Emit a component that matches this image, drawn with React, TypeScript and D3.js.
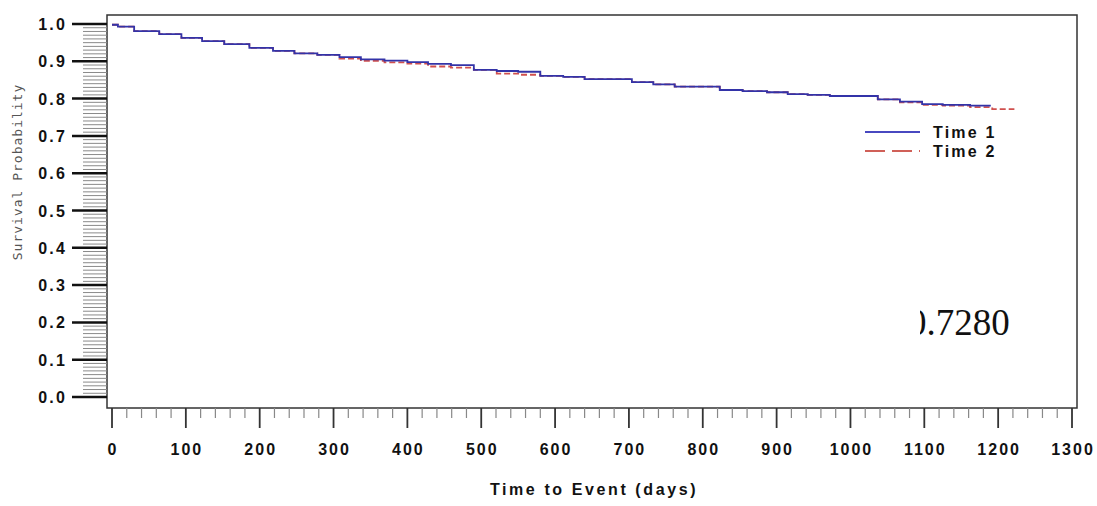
import React, { useRef, useEffect } from 'react';
import * as d3 from 'd3';

// Kaplan-Meier step data
const time1Days = [0, 8, 30, 64, 94, 122, 152, 186, 218, 247, 278, 308, 337, 369, 400, 428, 459, 490, 521, 550, 580, 611, 640, 704, 733, 762, 823, 854, 887, 915, 942, 972, 1037, 1067, 1097, 1125, 1162, 1190];
const time1Surv = [0.998, 0.993, 0.981, 0.973, 0.963, 0.954, 0.946, 0.936, 0.928, 0.921, 0.917, 0.911, 0.905, 0.902, 0.898, 0.893, 0.890, 0.877, 0.874, 0.872, 0.861, 0.858, 0.852, 0.844, 0.838, 0.832, 0.823, 0.820, 0.817, 0.812, 0.810, 0.807, 0.798, 0.792, 0.785, 0.783, 0.781, 0.781];

const time2Days = [0, 8, 30, 64, 94, 122, 152, 186, 218, 247, 278, 308, 337, 369, 400, 428, 459, 490, 521, 550, 580, 611, 640, 704, 733, 762, 823, 854, 887, 915, 942, 972, 1037, 1067, 1097, 1125, 1162, 1192, 1222];
const time2Surv = [0.998, 0.993, 0.981, 0.973, 0.963, 0.954, 0.946, 0.936, 0.928, 0.921, 0.917, 0.907, 0.901, 0.897, 0.894, 0.886, 0.883, 0.877, 0.867, 0.864, 0.861, 0.858, 0.852, 0.844, 0.838, 0.832, 0.823, 0.820, 0.817, 0.812, 0.810, 0.807, 0.798, 0.790, 0.783, 0.781, 0.777, 0.772, 0.772];

const seriesNames = ['Time 1', 'Time 2'];
const xTicks = d3.range(0, 1301, 100);
const yTicks = d3.range(0, 1.01, 0.1);
const annotation = '0.7280';

function App() {
  const ref = useRef(null);

  useEffect(() => {
    const svg = d3.select(ref.current);
    svg.selectAll('*').remove();

    const x = d3.scaleLinear().domain([0, 1300]).range([112, 1072]);
    const y = d3.scaleLinear().domain([0, 1]).range([397, 24]);
    const frame = { left: 107, top: 15, right: 1077, bottom: 408 };
    const tickFont = '"Liberation Sans", Arial, sans-serif';

    // frame
    svg.append('rect')
      .attr('x', frame.left).attr('y', frame.top)
      .attr('width', frame.right - frame.left).attr('height', frame.bottom - frame.top)
      .attr('fill', 'white').attr('stroke', '#333').attr('stroke-width', 1.5);

    // y minor ticks
    const yMinor = d3.range(0, 101).filter(i => i % 10 !== 0).map(i => i / 100);
    svg.append('g').selectAll('line').data(yMinor).enter().append('line')
      .attr('x1', 83).attr('x2', frame.left)
      .attr('y1', d => y(d)).attr('y2', d => y(d))
      .attr('stroke', '#8a8a8a').attr('stroke-width', 1);

    // y major ticks + labels
    const yg = svg.append('g');
    yg.selectAll('line').data(yTicks).enter().append('line')
      .attr('x1', 72).attr('x2', frame.left)
      .attr('y1', d => y(d)).attr('y2', d => y(d))
      .attr('stroke', '#111').attr('stroke-width', 2.5);
    yg.selectAll('text').data(yTicks).enter().append('text')
      .attr('x', 67).attr('y', d => y(d) + 6)
      .attr('text-anchor', 'end')
      .style('font-family', tickFont).style('font-weight', 'bold').style('font-size', '16px')
      .style('letter-spacing', '2.2px').attr('fill', '#111')
      .text(d => d.toFixed(1));

    svg.append('text')
      .attr('transform', `translate(22,172) rotate(-90)`)
      .attr('text-anchor', 'middle')
      .style('font-family', '"DejaVu Sans Mono", monospace').style('font-size', '13px')
      .style('letter-spacing', '1px').attr('fill', '#555')
      .text('Survival Probability');

    // x minor ticks
    const xMinor = d3.range(0, 1301, 20).filter(d => d % 100 !== 0);
    svg.append('g').selectAll('line').data(xMinor).enter().append('line')
      .attr('x1', d => x(d)).attr('x2', d => x(d))
      .attr('y1', frame.bottom).attr('y2', 418)
      .attr('stroke', '#888').attr('stroke-width', 1.2);

    const xg = svg.append('g');
    xg.selectAll('line').data(xTicks).enter().append('line')
      .attr('x1', d => x(d)).attr('x2', d => x(d))
      .attr('y1', frame.bottom).attr('y2', 428)
      .attr('stroke', '#333').attr('stroke-width', 1.8);
    xg.selectAll('text').data(xTicks).enter().append('text')
      .attr('x', d => x(d) + 1).attr('y', 455)
      .attr('text-anchor', 'middle')
      .style('font-family', tickFont).style('font-weight', 'bold').style('font-size', '16px')
      .style('letter-spacing', '2px').attr('fill', '#111')
      .text(d => d);

    svg.append('text')
      .attr('x', 594).attr('y', 495)
      .attr('text-anchor', 'middle')
      .style('font-family', tickFont).style('font-weight', 'bold').style('font-size', '16px')
      .style('letter-spacing', '2.6px').attr('fill', '#111')
      .text('Time to Event (days)');

    // curves
    const line = d3.line().x(d => x(d[0])).y(d => y(d[1])).curve(d3.curveStepAfter);
    const s1 = time1Days.map((d, i) => [d, time1Surv[i]]);
    const s2 = time2Days.map((d, i) => [d, time2Surv[i]]);

    svg.append('path').datum(s2).attr('d', line)
      .attr('fill', 'none').attr('stroke', '#d0504e').attr('stroke-width', 1.8)
      .attr('stroke-dasharray', '6,3');
    svg.append('path').datum(s1).attr('d', line)
      .attr('fill', 'none').attr('stroke', '#3333a8').attr('stroke-width', 1.8);

    // legend
    const legend = svg.append('g').selectAll('g').data(seriesNames).enter().append('g')
      .attr('transform', (d, i) => `translate(865, ${132 + i * 19})`);
    legend.append('line')
      .attr('x1', 0).attr('x2', 55).attr('y1', 0).attr('y2', 0)
      .attr('stroke', (d, i) => i === 0 ? '#4848c0' : '#d06058')
      .attr('stroke-width', 1.8)
      .attr('stroke-dasharray', (d, i) => i === 0 ? null : '20,7');
    legend.append('text')
      .attr('x', 68).attr('y', 6)
      .style('font-family', tickFont).style('font-weight', 'bold').style('font-size', '16px')
      .style('letter-spacing', '2.2px').attr('fill', '#111')
      .text(d => d);

    // clipped annotation
    svg.append('clipPath').attr('id', 'annClip')
      .append('rect').attr('x', 920).attr('y', 280).attr('width', 150).attr('height', 80);
    svg.append('text')
      .attr('x', 908).attr('y', 335)
      .attr('clip-path', 'url(#annClip)')
      .style('font-family', '"Liberation Serif", "Times New Roman", serif').style('font-size', '37px')
      .attr('fill', '#111')
      .text(annotation);
  }, []);

  return <svg ref={ref} width={1097} height={506} style={{ position: 'absolute', left: 0, top: 0, background: 'white' }}></svg>;
}

export default App;
